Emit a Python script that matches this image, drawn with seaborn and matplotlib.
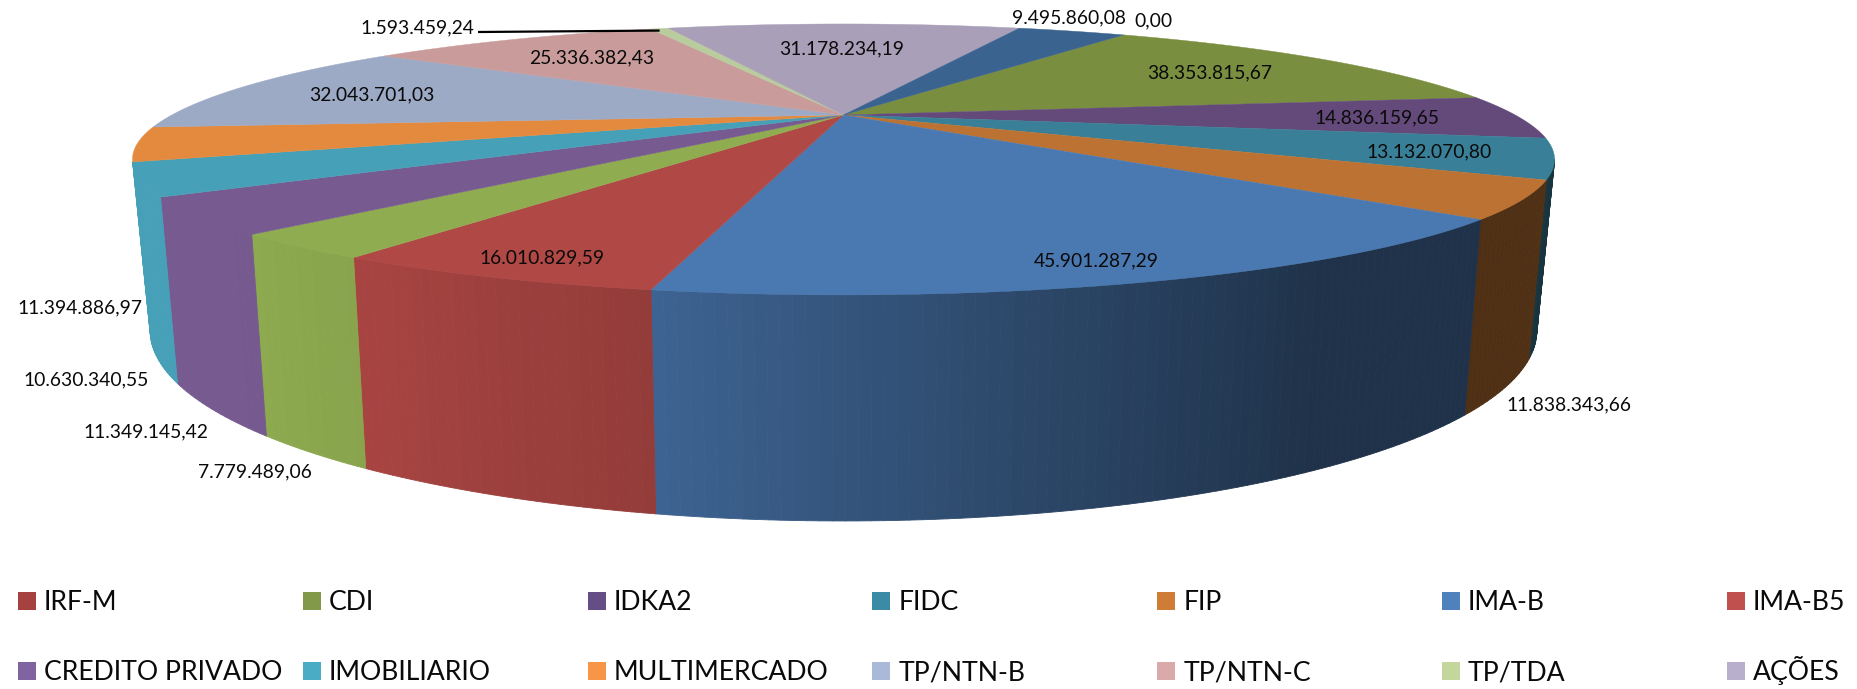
import numpy as np
import pandas as pd
import seaborn as sns
import matplotlib
matplotlib.use("Agg")
import matplotlib.pyplot as plt
from matplotlib.collections import PolyCollection
from matplotlib.colors import to_rgb
from matplotlib.patches import Rectangle

# ---------- data ----------
slice_names = ["CDI", "IDKA2", "FIDC", "FIP", "IMA-B", "IMA-B5", "(sem legenda 1)",
               "CREDITO PRIVADO", "IMOBILIARIO", "MULTIMERCADO", "TP/NTN-B", "TP/NTN-C",
               "TP/TDA", "AÇÕES", "(sem legenda 2)", "IRF-M"]
slice_values = [38353815.67, 14836159.65, 13132070.80, 11838343.66, 45901287.29, 16010829.59,
                7779489.06, 11349145.42, 10630340.55, 11394886.97, 32043701.03, 25336382.43,
                1593459.24, 31178234.19, 9495860.08, 0.00]
value_labels = ["38.353.815,67", "14.836.159,65", "13.132.070,80", "11.838.343,66",
                "45.901.287,29", "16.010.829,59", "7.779.489,06", "11.349.145,42",
                "10.630.340,55", "11.394.886,97", "32.043.701,03", "25.336.382,43",
                "1.593.459,24", "31.178.234,19", "9.495.860,08", "0,00"]
legend_row1 = ["IRF-M", "CDI", "IDKA2", "FIDC", "FIP", "IMA-B", "IMA-B5"]
legend_row2 = ["CREDITO PRIVADO", "IMOBILIARIO", "MULTIMERCADO", "TP/NTN-B", "TP/NTN-C", "TP/TDA", "AÇÕES"]

# ---------- styles ----------
top_colors = ["#7A8E40", "#634A7A", "#397F97", "#BC7232", "#4A78B0", "#B04845", "#8FAC50",
              "#765A90", "#46A0B8", "#E48A3E", "#9DAAC6", "#C99B9A", "#B9CC9E", "#A99FB8",
              "#3A638F", "#A5413F"]
legend_colors_row1 = ["#A5413F", "#82994A", "#654D85", "#3C8BA6", "#CE7C36", "#4F81BD", "#C0504D"]
legend_colors_row2 = ["#8064A2", "#4BACC6", "#F79646", "#AAB9D8", "#D9AAA9", "#C3D69B", "#B7AFCB"]
label_xy = [(1210, 72), (1377, 117), (1429, 151), (1569, 404), (1096, 260), (542, 257),
            (255, 471), (146, 431), (86, 379), (80, 307), (372, 94), (592, 57),
            (417, 27), (842, 48), (1069, 17), (1153, 20)]

sns.set_theme(style="white")
plt.rcParams["font.family"] = ["Lato", "DejaVu Sans"]
palette = sns.color_palette(top_colors)

df = pd.DataFrame({"name": slice_names, "value": slice_values, "label": value_labels})
df["sweep"] = df["value"] / df["value"].sum() * 360.0
START = 32.2
df["t0"] = START + df["sweep"].cumsum().shift(fill_value=0)
df["t1"] = df["t0"] + df["sweep"]

# perspective projection of the pie disc, angles clockwise from the back
CX, K = 843.5, 0.328
TOP = dict(a=671.7, cy=115.0, b=120.9)
BOT = dict(a=655.0, cy=268.0, b=170.0)


def project(t_deg, plane, r=1.0):
    t = np.radians(t_deg)
    x, y = r * np.sin(t), r * np.cos(t)
    w = 1 + K * y
    return CX + plane["a"] * x / w, plane["cy"] - plane["b"] * y / w


shade_t = [105, 150, 170, 192, 212, 225, 260]
shade_f = [0.42, 0.42, 0.60, 0.84, 0.955, 1.0, 1.0]

fig = plt.figure(figsize=(18.58, 6.89), dpi=100, facecolor="white")
ax = fig.add_axes([0, 0, 1, 1])
ax.set_xlim(0, 1858)
ax.set_ylim(689, 0)
ax.axis("off")

# side wall in small facets, giving the gradient
polys, cols = [], []
VIS0, VIS1 = 109.2, 250.8
for (_, row), col in zip(df.iterrows(), palette):
    a0, a1 = max(row.t0, VIS0), min(row.t1, VIS1)
    if a1 - a0 < 1.0:
        continue
    n = max(int((a1 - a0) / 0.75), 1)
    edges = np.linspace(a0, a1, n + 1)
    for u, v in zip(edges[:-1], edges[1:]):
        xt, yt = project(np.array([u, v]), TOP)
        xb, yb = project(np.array([u, v]), BOT)
        polys.append(np.column_stack([[xt[0], xt[1], xb[1], xb[0]], [yt[0], yt[1], yb[1], yb[0]]]))
        f = np.interp((u + v) / 2, shade_t, shade_f)
        cols.append(tuple(np.array(to_rgb(col)) * f))
ax.add_collection(PolyCollection(polys, facecolors=cols, edgecolors=cols, linewidths=0.6, zorder=2))

# top face
for (_, row), col in zip(df.iterrows(), palette):
    if row.sweep <= 0:
        continue
    ang = np.linspace(row.t0, row.t1, max(int(row.sweep * 2), 2))
    xs, ys = project(ang, TOP)
    ax.fill(np.r_[CX, xs], np.r_[TOP["cy"], ys], color=col, lw=0.3, zorder=3)

# value labels
for text, (x, y) in zip(df["label"], label_xy):
    ax.text(x, y + 6.5, text, ha="center", va="baseline", fontsize=13.9, color="#0a0a0a", zorder=5)

# leader line of the thin TP/TDA slice
tda = df[df["name"] == "TP/TDA"].iloc[0]
lx, ly = project((tda.t0 + tda.t1) / 2, TOP)
ax.plot([478, lx], [32, ly + 2], color="black", lw=1.6, zorder=4, solid_capstyle="butt")

# legend
COL_STEP, COL_X0, SQ, TEXT_GAP = 284.8, 18, 18, 8
for row_y, names, colors in [(601, legend_row1, legend_colors_row1),
                             (671, legend_row2, legend_colors_row2)]:
    for i, (name, c) in enumerate(zip(names, colors)):
        x = COL_X0 + i * COL_STEP
        ax.add_patch(Rectangle((x, row_y - SQ / 2), SQ, SQ, color=c, lw=0, zorder=3))
        ax.text(x + SQ + TEXT_GAP, row_y + 9, name, ha="left", va="baseline", fontsize=19.2,
                color="#0a0a0a", zorder=5)

sns.despine(ax=ax, left=True, bottom=True)
fig.savefig("out.png", dpi=100, facecolor="white")
